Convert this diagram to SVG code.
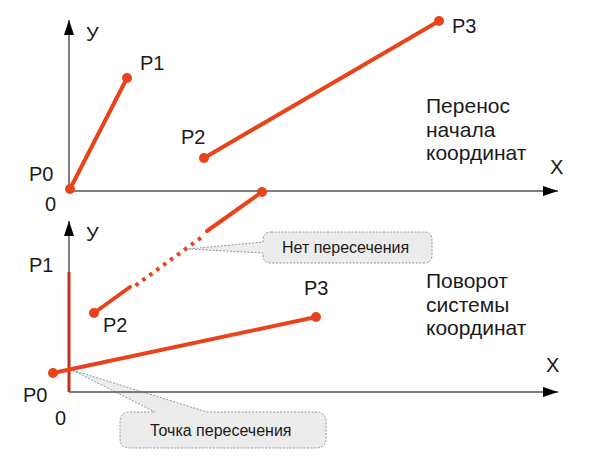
<svg xmlns="http://www.w3.org/2000/svg" width="604" height="470" viewBox="0 0 604 470">
  <style>
    text { font-family: "Liberation Sans", Arial, sans-serif; fill: #1a1a1a; }
    .lbl { font-size: 20px; }
    .big { font-size: 21px; }
    .call { font-size: 16px; }
    .axis { stroke: #555; stroke-width: 1.5; fill: none; }
    .seg { stroke: #e8441c; stroke-width: 4; fill: none; stroke-linecap: round; }
    .dot { fill: #e8441c; }
    .bubble { fill: #ececec; stroke: #8a96a4; stroke-width: 1; stroke-dasharray: 2 1.5; }
  </style>
  <defs>
    <marker id="arr" viewBox="0 0 15 10" refX="15" refY="5" markerWidth="15" markerHeight="10" markerUnits="userSpaceOnUse" orient="auto">
      <path d="M0,0 L15,5 L0,10 Z" fill="#000"/>
    </marker>
  </defs>
  <rect width="604" height="470" fill="#fff"/>

  <!-- callouts -->
  <g id="callout-no-intersection">
    <path class="bubble" d="M271,232 H424 Q432,232 432,240 V255 Q432,263 424,263 H271 Q263,263 263,255 V253 L188,249 L263,242 V240 Q263,232 271,232 Z"/>
    <text class="call" x="282" y="253">Нет пересечения</text>
  </g>
  <g id="callout-intersection">
    <path class="bubble" d="M130,412 H155 L72,370 L207,412 H316 Q326,412 326,422 V438 Q326,448 316,448 H130 Q120,448 120,438 V422 Q120,412 130,412 Z"/>
    <text class="call" x="150" y="436">Точка пересечения</text>
  </g>

  <!-- axes -->
  <g id="axes-top">
    <line class="axis" x1="69" y1="191" x2="69" y2="20" marker-end="url(#arr)"/>
    <line class="axis" x1="69" y1="191" x2="558" y2="191" marker-end="url(#arr)"/>
    <text class="lbl" x="86" y="41">У</text>
    <text class="lbl" x="550" y="174">X</text>
    <text class="lbl" x="45" y="211">0</text>
  </g>
  <g id="axes-bottom">
    <line class="axis" x1="69" y1="392" x2="69" y2="221" marker-end="url(#arr)"/>
    <line class="axis" x1="69" y1="392" x2="558" y2="392" marker-end="url(#arr)"/>
    <text class="lbl" x="86" y="241">У</text>
    <text class="lbl" x="546" y="372">X</text>
    <text class="lbl" x="55" y="425">0</text>
  </g>

  <!-- connectors -->
  <g id="connectors">
    <line class="seg" x1="70" y1="189" x2="127" y2="78"/>
    <line class="seg" x1="204" y1="158" x2="439" y2="21"/>
    <line x1="69" y1="272" x2="69" y2="392" stroke="#c0301a" stroke-width="3"/>
    <line class="seg" x1="53" y1="373" x2="316" y2="317"/>
    <line class="seg" x1="94" y1="313" x2="130" y2="287"/>
    <line x1="135.5" y1="285.5" x2="202" y2="237" stroke="#e8441c" stroke-width="4" stroke-dasharray="3.5 5.1"/>
    <line class="seg" x1="207" y1="231" x2="262" y2="192"/>
  </g>

  <!-- points -->
  <g id="top-P0"><circle class="dot" cx="70" cy="189" r="5"/><text class="lbl" x="29" y="181">P0</text></g>
  <g id="top-P1"><circle class="dot" cx="127" cy="78" r="5"/><text class="lbl" x="140" y="70">P1</text></g>
  <g id="top-P2"><circle class="dot" cx="204" cy="158" r="5"/><text class="lbl" x="181" y="144">P2</text></g>
  <g id="top-P3"><circle class="dot" cx="439" cy="21" r="5"/><text class="lbl" x="452" y="33">P3</text></g>
  <g id="mid-point"><circle class="dot" cx="262" cy="192" r="5"/></g>
  <g id="bot-P0"><circle class="dot" cx="53" cy="373" r="5"/><text class="lbl" x="23" y="402">P0</text></g>
  <g id="bot-P1"><text class="lbl" x="29" y="272">P1</text></g>
  <g id="bot-P2"><circle class="dot" cx="94" cy="313" r="5"/><text class="lbl" x="103" y="332">P2</text></g>
  <g id="bot-P3"><circle class="dot" cx="316" cy="317" r="5"/><text class="lbl" x="304" y="295">P3</text></g>

  <g id="text-translate">
    <text class="big" x="426" y="113">Перенос</text>
    <text class="big" x="426" y="137">начала</text>
    <text class="big" x="426" y="160">координат</text>
  </g>
  <g id="text-rotate">
    <text class="big" x="426" y="288">Поворот</text>
    <text class="big" x="426" y="312">системы</text>
    <text class="big" x="426" y="335">координат</text>
  </g>
</svg>
